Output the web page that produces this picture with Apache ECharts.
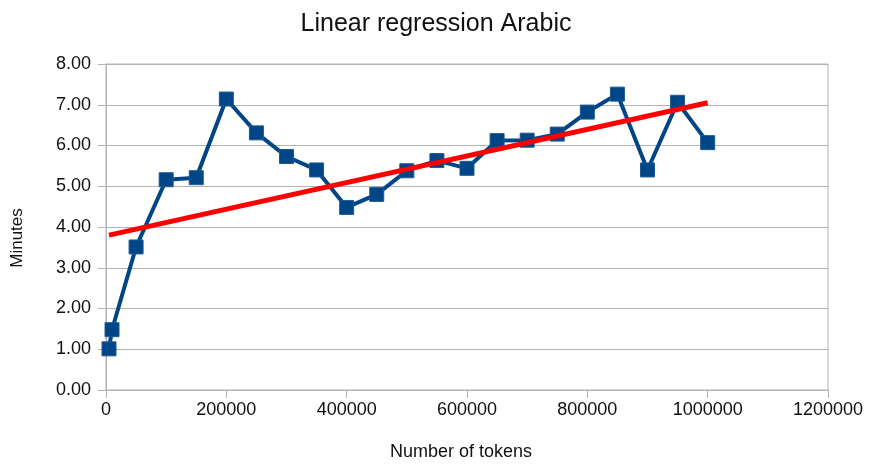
<!DOCTYPE html>
<html>
<head>
<meta charset="utf-8">
<script src="https://cdn.jsdelivr.net/npm/echarts@6/dist/echarts.min.js"></script>
<style>
  html, body { margin: 0; padding: 0; background: #fff; }
  #chart { width: 872px; height: 464px; }
</style>
</head>
<body>
<div id="chart"></div>
<script>
// values
const tokens = [5000, 10000, 50000, 100000, 150000, 200000, 250000, 300000, 350000, 400000, 450000,
  500000, 550000, 600000, 650000, 700000, 750000, 800000, 850000, 900000, 950000, 1000000];
const minutes = [1.01, 1.48, 3.51, 5.16, 5.21, 7.14, 6.31, 5.73, 5.40, 4.48, 4.80,
  5.38, 5.63, 5.44, 6.12, 6.13, 6.28, 6.82, 7.26, 5.40, 7.06, 6.07];
// regression line end points
const trendX = [5000, 1000000];
const trendY = [3.80, 7.05];

const font = 'Liberation Sans';
const gridColor = '#b3b3b3';

const myChart = echarts.init(document.getElementById('chart'));
const option = {
  animation: false,
  backgroundColor: '#fff',
  title: {
    text: 'Linear regression Arabic',
    left: 'center',
    top: 7,
    textStyle: { fontFamily: font, fontSize: 25, fontWeight: 'normal', color: '#111' }
  },
  grid: {
    left: 106, right: 44, top: 64, bottom: 74,
    outerBoundsMode: 'none',
    containLabel: false,
    show: true, borderColor: gridColor, borderWidth: 1
  },
  xAxis: {
    type: 'value',
    min: 0, max: 1200000, interval: 200000,
    name: 'Number of tokens',
    nameLocation: 'middle',
    nameGap: 53,
    nameTextStyle: { fontFamily: font, fontSize: 18, color: '#111', padding: [0, 12, 0, 0] },
    axisLine: { show: true, lineStyle: { color: gridColor } },
    axisTick: { show: true, length: 8, lineStyle: { color: gridColor } },
    axisLabel: { fontFamily: font, fontSize: 18, color: '#111', margin: 11, formatter: v => String(v) },
    splitLine: { show: false }
  },
  yAxis: {
    type: 'value',
    min: 0, max: 8, interval: 1,
    name: 'Minutes',
    nameLocation: 'middle',
    nameGap: 80,
    nameTextStyle: { fontFamily: font, fontSize: 17, color: '#111', padding: [0, 0, 0, -22] },
    axisLine: { show: true, lineStyle: { color: gridColor } },
    axisTick: { show: true, length: 8, lineStyle: { color: gridColor } },
    axisLabel: {
      fontFamily: font, fontSize: 18, color: '#111', margin: 15,
      formatter: v => v.toFixed(2)
    },
    splitLine: { show: true, lineStyle: { color: gridColor } }
  },
  series: [
    {
      name: 'Minutes',
      type: 'line',
      data: tokens.map((t, i) => [t, minutes[i]]),
      symbol: 'rect',
      symbolSize: 14,
      lineStyle: { color: '#004586', width: 4 },
      itemStyle: { color: '#004586', borderColor: '#1d5a94', borderWidth: 1 },
      z: 2
    },
    {
      name: 'Trend',
      type: 'line',
      data: trendX.map((t, i) => [t, trendY[i]]),
      symbol: 'none',
      lineStyle: { color: '#ff0000', width: 5 },
      z: 3
    }
  ]
};
myChart.setOption(option);
</script>
</body>
</html>
